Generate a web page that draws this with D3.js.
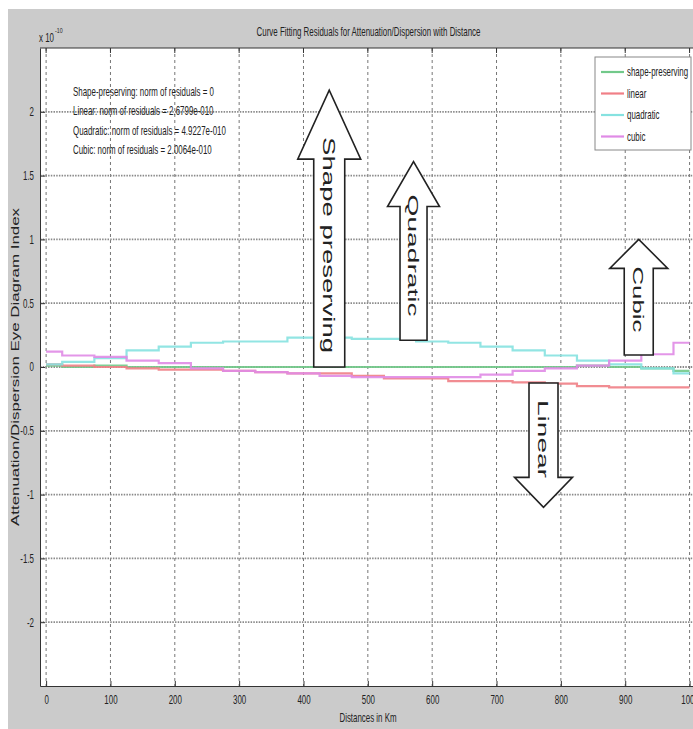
<!DOCTYPE html>
<html>
<head>
<meta charset="utf-8">
<script src="https://cdn.jsdelivr.net/npm/d3@7"></script>
<style>
  body { margin: 0; background: #fff; }
  svg { display: block; }
  text { font-family: "Liberation Sans", Arial, sans-serif; fill: #222; }
</style>
</head>
<body>
<script>
// residuals (units of 1e-10)
const distances = [0, 50, 100, 150, 200, 250, 300, 350, 400, 450, 500, 550, 600, 650, 700, 750, 800, 850, 900, 950, 1000];
const shapePreserving = [0.01, 0.0, 0.01, 0.0, 0.0, 0.0, 0.0, 0.0, 0.0, 0.0, 0.0, 0.0, 0.0, 0.0, 0.0, 0.0, 0.0, 0.01, 0.0, -0.01, -0.03];
const linearRes = [0.02, 0.01, 0.0, -0.01, -0.02, -0.02, -0.03, -0.04, -0.05, -0.05, -0.07, -0.09, -0.09, -0.11, -0.11, -0.12, -0.13, -0.15, -0.16, -0.16, -0.16];
const quadraticRes = [0.02, 0.04, 0.07, 0.13, 0.16, 0.19, 0.20, 0.20, 0.23, 0.23, 0.22, 0.22, 0.20, 0.19, 0.16, 0.13, 0.09, 0.05, 0.02, -0.01, -0.05];
const cubicRes = [0.12, 0.09, 0.08, 0.05, 0.03, -0.01, -0.03, -0.04, -0.05, -0.07, -0.08, -0.08, -0.08, -0.08, -0.06, -0.03, -0.01, 0.01, 0.05, 0.10, 0.19];

const seriesNames = ["shape-preserving", "linear", "quadratic", "cubic"];
const seriesValues = [shapePreserving, linearRes, quadraticRes, cubicRes];
const seriesColors = ["#72c98a", "#f07f86", "#86e2e0", "#e08be6"];

const normLines = [
  "Shape-preserving: norm of residuals = 0",
  "Linear: norm of residuals = 2.6799e-010",
  "Quadratic: norm of residuals = 4.9227e-010",
  "Cubic: norm of residuals = 2.0064e-010"
];

const xTicks = [0, 100, 200, 300, 400, 500, 600, 700, 800, 900, 1000];
const yTicks = [-2, -1.5, -1, -0.5, 0, 0.5, 1, 1.5, 2];

// arrow annotations in data units: x centre (km), base value, tip value
const arrows = [
  {label: "Shape preserving", x: 440, base: 0.0, tip: 2.17},
  {label: "Quadratic", x: 571, base: 0.21, tip: 1.61},
  {label: "Cubic", x: 921, base: 0.094, tip: 1.0},
  {label: "Linear", x: 773, base: -0.125, tip: -1.10}
];
// arrow drawing styles (px)
const arrowStyle = {
  "Shape preserving": {shaft: 31, head: 63, headLen: 69, font: 16, textLen: 216, textStart: 47},
  "Quadratic": {shaft: 27, head: 52, headLen: 45, font: 14, textLen: 122, textStart: 33},
  "Cubic": {shaft: 29, head: 58, headLen: 29, font: 14, textLen: 66, textStart: 27},
  "Linear": {shaft: 29, head: 58, headLen: 30, font: 14, textLen: 78, textStart: 17}
};

const W = 693, H = 729;
const plot = {left: 40, right: 696, top: 48, bottom: 686};
const squash = 0.66; // the original picture was squeezed sideways

const svg = d3.select("body").append("svg")
    .attr("width", W)
    .attr("height", H);

// figure background
svg.append("rect").attr("x", 8).attr("y", 9).attr("width", W - 8).attr("height", H - 9)
    .attr("fill", "#cbcbcb");
svg.append("rect").attr("x", plot.left).attr("y", plot.top)
    .attr("width", plot.right - plot.left).attr("height", plot.bottom - plot.top)
    .attr("fill", "#fff");

const x = d3.scaleLinear().domain([-9.5, 1010]).range([plot.left, plot.right]);
const y = d3.scaleLinear().domain([-2.5, 2.5]).range([plot.bottom, plot.top]);

// squeezed text helper
function label(g, px, py, str, opts) {
  opts = opts || {};
  return g.append("g").attr("transform", `translate(${px},${py}) scale(${squash},1)`)
    .append("text")
      .attr("font-size", opts.size || 12)
      .attr("text-anchor", opts.anchor || "start")
      .attr("fill", opts.fill || "#222")
      .text(str);
}

// grid
const grid = svg.append("g").attr("class", "grid");
grid.selectAll(".vgrid").data(xTicks).enter().append("line")
    .attr("x1", d => x(d)).attr("x2", d => x(d))
    .attr("y1", plot.top).attr("y2", plot.bottom)
    .attr("stroke", "#666").attr("stroke-width", 0.9).attr("stroke-dasharray", "3,3");
grid.selectAll(".hgrid").data(yTicks).enter().append("line")
    .attr("x1", plot.left).attr("x2", plot.right)
    .attr("y1", d => y(d)).attr("y2", d => y(d))
    .attr("stroke", "#8a8a8a").attr("stroke-width", 1.8).attr("stroke-dasharray", "1.5,1.2");

// residual curves
const line = d3.line()
    .x((d, i) => x(distances[i]))
    .y(d => y(d))
    .curve(d3.curveStep);

svg.append("g").selectAll("path").data(seriesValues).enter().append("path")
    .attr("d", line)
    .attr("fill", "none")
    .attr("stroke", (d, i) => seriesColors[i])
    .attr("stroke-width", 2.2)
    .attr("stroke-opacity", 0.9);

// axes (matlab style, ticks inward)
const xAxis = d3.axisBottom(x).tickValues(xTicks).tickSizeInner(-5).tickSizeOuter(0).tickPadding(9).tickFormat(d => String(d));
const yAxis = d3.axisLeft(y).tickValues(yTicks).tickSizeInner(-5).tickSizeOuter(0).tickPadding(6).tickFormat(d => String(d));

const gx = svg.append("g").attr("transform", `translate(0,${plot.bottom})`).call(xAxis);
const gy = svg.append("g").attr("transform", `translate(${plot.left},0)`).call(yAxis);
[gx, gy].forEach(g => {
  g.select(".domain").attr("stroke", "#333");
  g.selectAll(".tick line").attr("stroke", "#333");
  g.selectAll(".tick text").attr("font-size", 12).attr("font-family", "Liberation Sans, Arial, sans-serif")
      .attr("fill", "#222").attr("transform", `scale(${squash},1)`);
});
gx.selectAll(".tick text").attr("dy", "0.71em");
gy.selectAll(".tick text").attr("x", -6 / squash);

// top frame with ticks
svg.append("line").attr("x1", plot.left).attr("x2", plot.right)
    .attr("y1", plot.top).attr("y2", plot.top).attr("stroke", "#333");
svg.selectAll(".ttick").data(xTicks).enter().append("line")
    .attr("x1", d => x(d)).attr("x2", d => x(d))
    .attr("y1", plot.top).attr("y2", plot.top + 5).attr("stroke", "#333");

// titles
label(svg, (plot.left + 693) / 2 + 2, 36, "Curve Fitting Residuals for  Attenuation/Dispersion with Distance", {anchor: "middle", fill: "#333"});
label(svg, 368, 722, "Distances in Km", {anchor: "middle", fill: "#333"});
label(svg, 39, 42, "x 10", {fill: "#333"});
label(svg, 55, 33, "-10", {size: 8, fill: "#333"});

svg.append("text")
    .attr("transform", `translate(19,${y(0)}) rotate(-90)`)
    .attr("text-anchor", "middle")
    .attr("font-size", 10)
    .attr("fill", "#444")
    .attr("textLength", 318)
    .attr("lengthAdjust", "spacingAndGlyphs")
    .text("Attenuation/Dispersion Eye Diagram Index");

// norm of residuals text
normLines.forEach((s, i) => {
  label(svg, 73, 96 + i * 19.3, s, {fill: "#333"});
});

// legend
const lg = svg.append("g").attr("transform", "translate(595,57)");
lg.append("rect").attr("width", 96).attr("height", 93)
    .attr("fill", "#fff").attr("stroke", "#888");
seriesNames.forEach((n, i) => {
  const ly = 15 + i * 21.5;
  lg.append("line").attr("x1", 6).attr("x2", 29).attr("y1", ly).attr("y2", ly)
      .attr("stroke", seriesColors[i]).attr("stroke-width", 2.2);
  label(lg, 32, ly + 4, n, {fill: "#333"});
});

// hollow arrows
const ag = svg.append("g");
arrows.forEach(a => {
  const s = arrowStyle[a.label];
  const cx = x(a.x), yb = y(a.base), yt = y(a.tip);
  const dir = yt < yb ? 1 : -1; // 1: points up
  const yh = yt + dir * s.headLen;
  const pts = [
    [cx - s.shaft / 2, yb], [cx - s.shaft / 2, yh], [cx - s.head / 2, yh],
    [cx, yt], [cx + s.head / 2, yh], [cx + s.shaft / 2, yh], [cx + s.shaft / 2, yb]
  ];
  ag.append("path")
      .attr("d", d3.line()(pts) + "Z")
      .attr("fill", "#fff")
      .attr("stroke", "#222")
      .attr("stroke-width", 1.6)
      .attr("stroke-linejoin", "miter");
  const tStart = dir === 1 ? yt + s.textStart : yb + s.textStart;
  ag.append("text")
      .attr("transform", `translate(${cx - 1},${tStart}) rotate(90)`)
      .attr("dominant-baseline", "central")
      .attr("font-size", s.font)
      .attr("textLength", s.textLen)
      .attr("lengthAdjust", "spacingAndGlyphs")
      .attr("fill", "#111")
      .text(a.label);
});
</script>
</body>
</html>
